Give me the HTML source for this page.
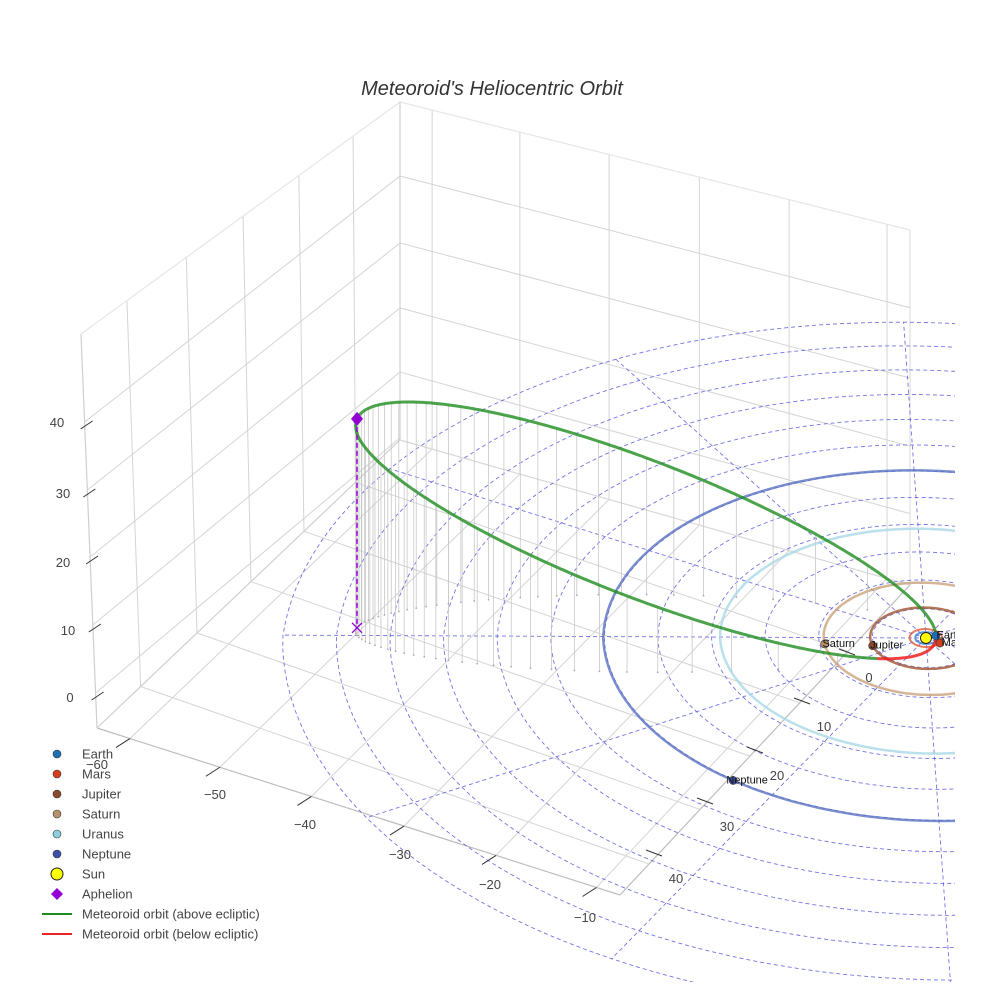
<!DOCTYPE html>
<html><head><meta charset="utf-8"><style>
html,body{margin:0;padding:0;background:#fff;width:984px;height:984px;overflow:hidden;}
svg{display:block;font-family:"Liberation Sans",sans-serif;overflow:hidden;}
</style></head><body>
<svg id="chart" width="984" height="984" viewBox="0 0 984 984" xmlns="http://www.w3.org/2000/svg">
<defs><clipPath id="sceneClip"><rect x="0" y="0" width="955" height="982"/></clipPath></defs>
<text x="492" y="95" text-anchor="middle" font-size="20" font-style="italic" fill="#333">Meteoroid's Heliocentric Orbit</text>
<g id="box"></g>
<g id="scene" clip-path="url(#sceneClip)"></g>
<g id="axes"></g>
<g id="legend"></g>
</svg>
<script>
// ---- data ----
const planetNames = ["Earth","Mars","Jupiter","Saturn","Uranus","Neptune"];
const planetRadii = [1.0, 1.52, 5.2, 9.54, 19.2, 30.1];
const planetAngles = [-53, 4, 135, 143.5, 20, 98];
const planetColors = ["#1f6fb4","#d2401a","#8b4a2b","#b8906a","#8ccfe0","#3b4fa8"];
const orbitColors = ["#3a7fd0","#e05a3a","#a0522d","#c9a27a","#a8d8e6","#5a72c0"];
const perihelionDist = [1.0];
const aphelionDist = [61];
const aphelionLon = [151.4];
const aphelionLat = [29.3];
const orbitTilt = [32];
const gridRadii = [5,10,15,20,25,30,35,40,45,50,55,60];
const gridSpokes = [0,30,60,90,120,150,180,210,240,270,300,330];
const xTicks = [-60,-50,-40,-30,-20,-10];
const yTicks = [0,10,20,30,40];
const zTicks = [0,10,20,30,40];

// layout (screen positions of tick labels)
const xLabelPos = [[97,769],[215,799],[305,829],[400,859],[490,889],[585,922]];
const yLabelPos = [[869,682],[824,731],[777,780],[727,831],[676,883]];
const zLabelPos = [[70,702],[68,635],[63,567],[63,498],[57,427]];

const NS="http://www.w3.org/2000/svg";
function mk(parent,tag,attrs){const e=document.createElementNS(NS,tag);for(const k in attrs)e.setAttribute(k,attrs[k]);parent.appendChild(e);return e;}
function proj(x,y,z){
  let dx=9.5*x-5*y, dy=3*x+5.1*y;
  let f = dy<0 ? 1/(1+0.00035*(-dy)) : 1/(1-0.00015*dy);
  dx*=f;dy*=f;
  return [926+dx, 638+dy-7*z];
}
function P(p){return p[0].toFixed(1)+","+p[1].toFixed(1);}

// ---- box grid ----
const box=document.getElementById('box');
function ln(g,a,b,col,w){return mk(g,'line',{x1:a[0],y1:a[1],x2:b[0],y2:b[1],stroke:col,'stroke-width':w||1});}
function lerp(a,b,t){return [a[0]+(b[0]-a[0])*t,a[1]+(b[1]-a[1])*t];}
const TL=[81,334],TB=[400,102],TR=[910,230],FL=[97,728],BL=[400,440],FR=[620,895],BR=[910,585];
const gc="#d4d4d4";
[0.144,0.33,0.508,0.683,0.853].forEach(f=>{const l=ln(box,lerp(TL,TB,f),lerp(FL,BL,f),gc);});
const lzL=[693,625,557,490,422], lzB=[438,372,308,243,176];
lzL.forEach((y,i)=>{const x=81+16*(y-334)/394;const l=ln(box,[x,y],[400,lzB[i]],gc);});
const bf=[0.063,0.235,0.41,0.587,0.763,0.955];
bf.forEach(f=>{const l=ln(box,lerp(TB,TR,f),lerp(BL,BR,f),gc);});
[0.219,0.417,0.609,0.799].forEach(f=>{const l=ln(box,lerp(TB,BL,f),lerp(TR,BR,f),gc);});
bf.forEach(f=>{const l=ln(box,lerp(FL,FR,f),lerp(BL,BR,f),gc);});
const fyL=[0.144,0.33,0.508,0.683,0.853], fyR=[0.10,0.276,0.448,0.62,0.786];
fyL.forEach((f,i)=>{const l=ln(box,lerp(FL,BL,f),lerp(FR,BR,fyR[i]),gc);});
[[TL,TB,"#e6e6e6"],[TB,TR,"#e6e6e6"],[TL,FL,"#cfcfcf"],[TB,BL,"#cfcfcf"],[TR,BR,"#e0e0e0"],[FL,FR,"#bdbdbd"],[FR,BR,"#bdbdbd"],[FL,BL,"#cfcfcf"],[BL,BR,"#d8d8d8"]].forEach(e=>{const l=ln(box,e[0],e[1],e[2],1.2);});

// ---- scene ----
const sc=document.getElementById('scene');
gridRadii.forEach(r=>{let pts=[];for(let k=0;k<=180;k++){const a=k/180*2*Math.PI;pts.push(P(proj(r*Math.cos(a),r*Math.sin(a),0)));}
 const e=mk(sc,'polyline',{points:pts.join(' '),fill:'none',stroke:'#5050e0','stroke-width':0.9,'stroke-dasharray':'4,3',opacity:0.8});
 
 });
gridSpokes.forEach(d=>{const a=d*Math.PI/180;const R=gridRadii[gridRadii.length-1];
 let pts=[];for(let k=0;k<=20;k++){const rr=R*k/20;pts.push(P(proj(rr*Math.cos(a),rr*Math.sin(a),0)));}
 const e=mk(sc,'polyline',{points:pts.join(' '),fill:'none',stroke:'#5050e0','stroke-width':0.9,'stroke-dasharray':'4,3',opacity:0.8});
 
 });

const q=perihelionDist[0],Q=aphelionDist[0];
const lo=aphelionLon[0]*Math.PI/180,la=aphelionLat[0]*Math.PI/180,ph=orbitTilt[0]*Math.PI/180;
const A=[Math.cos(la)*Math.cos(lo),Math.cos(la)*Math.sin(lo),Math.sin(la)];
let nn=[A[1],-A[0],0];const nl=Math.hypot(nn[0],nn[1]);nn=[nn[0]/nl,nn[1]/nl,0];
const m=[A[1]*nn[2]-A[2]*nn[1],A[2]*nn[0]-A[0]*nn[2],A[0]*nn[1]-A[1]*nn[0]];
const w=[0,1,2].map(i=>Math.cos(ph)*nn[i]+Math.sin(ph)*m[i]);
const sa=(Q+q)/2, sb=Math.sqrt(Q*q), cd=(Q-q)/2, ecc=(Q-q)/(Q+q);
function orb(E){const c=Math.cos(E),s=Math.sin(E);return [0,1,2].map(i=>(cd+sa*c)*A[i]+sb*s*w[i]);}
for(let k=0;k<64;k++){const M=Math.PI+(k/64)*2*Math.PI;let E=M;for(let it=0;it<60;it++)E=E-(E-ecc*Math.sin(E)-M)/(1-ecc*Math.cos(E));
 const p=orb(E+Math.PI);if(p[2]<0.4)continue;const a=proj(p[0],p[1],p[2]),b=proj(p[0],p[1],0);
 const l=mk(sc,'line',{x1:a[0],y1:a[1],x2:b[0],y2:b[1],stroke:'#c8c8c8','stroke-width':0.8});
 
 
 const d=mk(sc,'circle',{cx:b[0],cy:b[1],r:0.9,fill:'#aaa'});
 
 }

planetRadii.forEach((r,i)=>{let pts=[];for(let k=0;k<=200;k++){const a=k/200*2*Math.PI;pts.push(P(proj(r*Math.cos(a),r*Math.sin(a),0)));}
 const e=mk(sc,'polyline',{points:pts.join(' '),fill:'none',stroke:orbitColors[i],'stroke-width':i<2?2:2.5,opacity:0.8});
 
 });

let seg=[],segSign=null;
function flush(){if(seg.length>1){const e=mk(sc,'polyline',{points:seg.join(' '),fill:'none',stroke:segSign?'#1e8c1e':'#ee1111','stroke-width':3,opacity:0.8,'stroke-linejoin':'round'});
 
 }}
for(let k=0;k<=720;k++){const p=orb(k/720*2*Math.PI);const s=p[2]>=0;const sp=P(proj(p[0],p[1],p[2]));
 if(segSign===null)segSign=s;
 if(s!==segSign){seg.push(sp);flush();seg=[sp];segSign=s;}else seg.push(sp);}
flush();

const Ap=orb(0),ApS=proj(Ap[0],Ap[1],Ap[2]),ApF=proj(Ap[0],Ap[1],0);
let e=mk(sc,'line',{x1:ApS[0],y1:ApS[1],x2:ApF[0],y2:ApF[1],stroke:'#9400d3','stroke-width':1.5,'stroke-dasharray':'5,3'});


e=mk(sc,'path',{d:`M${ApF[0]-5},${ApF[1]-5}L${ApF[0]+5},${ApF[1]+5}M${ApF[0]-5},${ApF[1]+5}L${ApF[0]+5},${ApF[1]-5}`,stroke:'#9400d3','stroke-width':1.3,fill:'none'});


e=mk(sc,'path',{d:`M${ApS[0]},${ApS[1]-7}L${ApS[0]+6},${ApS[1]}L${ApS[0]},${ApS[1]+7}L${ApS[0]-6},${ApS[1]}Z`,fill:'#9400d3'});



e=mk(sc,'circle',{cx:proj(0,0,0)[0],cy:proj(0,0,0)[1],r:5.5,fill:'#ffff00',stroke:'#222','stroke-width':1});


planetRadii.forEach((r,i)=>{const a=planetAngles[i]*Math.PI/180;const p=proj(r*Math.cos(a),r*Math.sin(a),0);
 const c=mk(sc,'circle',{cx:p[0],cy:p[1],r:4,fill:planetColors[i],stroke:'#333','stroke-width':0.6});
 
 
 const t=mk(sc,'text',{x:p[0]+14,y:p[1]+3,'text-anchor':'middle','font-size':11,fill:'#111'});
 t.textContent=planetNames[i];
 
 });

// ---- axis tick labels ----
const ax=document.getElementById('axes');
xTicks.forEach((v,i)=>{const p=lerp(FL,FR,bf[i]);
 const l=mk(ax,'line',{x1:p[0]-14,y1:p[1]+9,x2:p[0],y2:p[1],stroke:'#333','stroke-width':1});
 
 
 const t=mk(ax,'text',{x:xLabelPos[i][0],y:xLabelPos[i][1],'text-anchor':'middle','font-size':13,fill:'#444'});
 t.textContent=(v<0?'\u2212':'')+Math.abs(v);
 
 });
yTicks.forEach((v,i)=>{const L=yLabelPos[i];
 const l=mk(ax,'line',{x1:L[0]-30,y1:L[1]-33,x2:L[0]-14,y2:L[1]-27,stroke:'#333','stroke-width':1});
 
 
 const t=mk(ax,'text',{x:L[0],y:L[1],'text-anchor':'middle','font-size':13,fill:'#444'});
 t.textContent=v;
 
 });
zTicks.forEach((v,i)=>{const y=lzL[i];const x=81+16*(y-334)/394;
 const l=mk(ax,'line',{x1:x-4,y1:y+7,x2:x+8,y2:y-1,stroke:'#333','stroke-width':1});
 
 
 const t=mk(ax,'text',{x:zLabelPos[i][0],y:zLabelPos[i][1],'text-anchor':'middle','font-size':13,fill:'#444'});
 t.textContent=v;
 
 });

// ---- legend ----
const lg=document.getElementById('legend');
const legendLabels=["Earth","Mars","Jupiter","Saturn","Uranus","Neptune","Sun","Aphelion","Meteoroid orbit (above ecliptic)","Meteoroid orbit (below ecliptic)"];
legendLabels.forEach((name,i)=>{const y=754+i*20;
 const g=mk(lg,'g',{});
 
 
 if(i<6)mk(g,'circle',{cx:57,cy:y,r:4,fill:planetColors[i],stroke:'#333','stroke-width':0.6});
 else if(i===6)mk(g,'circle',{cx:57,cy:y,r:6,fill:'#ffff00',stroke:'#222','stroke-width':1});
 else if(i===7)mk(g,'path',{d:`M57,${y-6}L63,${y}L57,${y+6}L51,${y}Z`,fill:'#9400d3'});
 else mk(g,'line',{x1:42,y1:y,x2:72,y2:y,stroke:i===8?'#1e8c1e':'#ee2222','stroke-width':2});
 const t=mk(g,'text',{x:82,y:y+4.5,'font-size':13,fill:'#444'});t.textContent=name;});
</script>
</body></html>
